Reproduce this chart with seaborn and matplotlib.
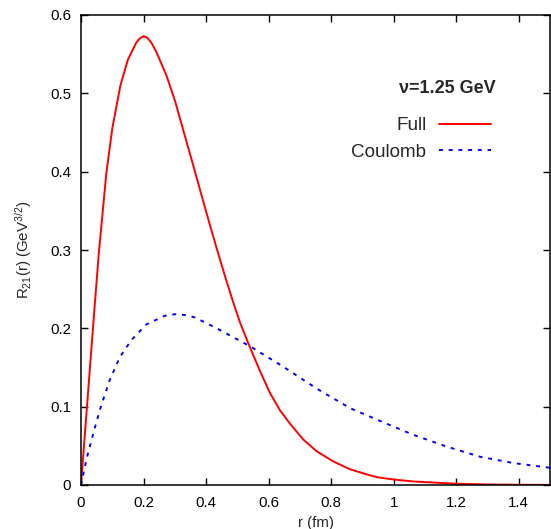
import numpy as np
import pandas as pd
import matplotlib
matplotlib.use("Agg")
import matplotlib.pyplot as plt
import seaborn as sns

# valores: R21(r) em GeV^(3/2), r em fm
r_full = [0.0, 0.021, 0.044, 0.057, 0.081, 0.1, 0.126, 0.15, 0.177, 0.188, 0.2,
          0.212, 0.226, 0.242, 0.274, 0.301, 0.327, 0.359, 0.391, 0.413, 0.434,
          0.461, 0.487, 0.509, 0.535, 0.573, 0.605, 0.637, 0.669, 0.711, 0.754,
          0.807, 0.861, 0.91, 0.946, 1.0, 1.063, 1.2, 1.3, 1.4, 1.5]
R_full = [0.0, 0.110, 0.230, 0.296, 0.398, 0.455, 0.510, 0.543, 0.565, 0.570, 0.573,
          0.571, 0.564, 0.552, 0.522, 0.490, 0.453, 0.408, 0.362, 0.331, 0.302,
          0.266, 0.233, 0.207, 0.181, 0.145, 0.117, 0.095, 0.078, 0.058, 0.043,
          0.030, 0.020, 0.014, 0.010, 0.007, 0.0045, 0.0016, 0.0007, 0.0003, 0.0001]

r_coul = [0.0, 0.017, 0.0224, 0.0438, 0.065, 0.092, 0.124, 0.161, 0.209, 0.268,
          0.3, 0.332, 0.364, 0.434, 0.541, 0.647, 0.754, 0.861, 0.967, 1.063,
          1.17, 1.277, 1.383, 1.5]
R_coul = [0.0, 0.032, 0.0405, 0.0724, 0.102, 0.134, 0.163, 0.185, 0.205, 0.216,
          0.218, 0.217, 0.214, 0.200, 0.177, 0.151, 0.123, 0.098, 0.080, 0.064,
          0.049, 0.036, 0.028, 0.022]

nomes = ["Full", "Coulomb"]
titulo = "\u03bd=1.25 GeV"

sns.set_style("ticks")
plt.rcParams["font.family"] = ["Liberation Sans", "DejaVu Sans"]
plt.rcParams["mathtext.fontset"] = "custom"
plt.rcParams["mathtext.rm"] = "Liberation Sans"
plt.rcParams["mathtext.default"] = "regular"

fig = plt.figure(figsize=(5.51, 5.29), dpi=100)
ax = fig.add_axes([81/551, 44/529, 469/551, 470/529])

df_full = pd.DataFrame({"r": r_full, "R": R_full})
df_coul = pd.DataFrame({"r": r_coul, "R": R_coul})

sns.lineplot(data=df_full, x="r", y="R", ax=ax, color="#ff0000", lw=1.4,
             label=nomes[0])
sns.lineplot(data=df_coul, x="r", y="R", ax=ax, color="#0000ff", lw=1.4,
             dashes=False, label=nomes[1])
ax.lines[1].set_dashes([2, 3])

ax.set_xlim(0, 1.5)
ax.set_ylim(0, 0.6)
ax.set_xticks(np.arange(0, 1.41, 0.2))
ax.set_xticklabels(["0", "0.2", "0.4", "0.6", "0.8", "1", "1.2", "1.4"])
ax.set_yticks(np.arange(0, 0.61, 0.1))
ax.set_yticklabels(["0", "0.1", "0.2", "0.3", "0.4", "0.5", "0.6"])
ax.tick_params(direction="in", length=5, width=1, top=True, right=True,
               labelsize=10.8, colors="#000000")
ax.tick_params(axis="x", pad=8)
ax.tick_params(axis="y", pad=7)
for s in ax.spines.values():
    s.set_visible(True)
    s.set_linewidth(1.1)
    s.set_color("#000000")

ax.set_xlabel("r (fm)", fontsize=10.8, labelpad=4)
ax.set_ylabel(r"R$_{21}$(r) (GeV$^{3/2}$)", fontsize=10.8, labelpad=12)

ax.text(0.883, 0.843, titulo, transform=ax.transAxes, ha="right", va="center",
        fontsize=13, fontweight="bold")
leg = ax.legend(loc="upper right", bbox_to_anchor=(0.895, 0.803), frameon=False,
                markerfirst=False, fontsize=13.6, handlelength=2.75,
                handletextpad=0.69, labelspacing=0.5, borderpad=0)

plt.savefig("out.png", dpi=100)
